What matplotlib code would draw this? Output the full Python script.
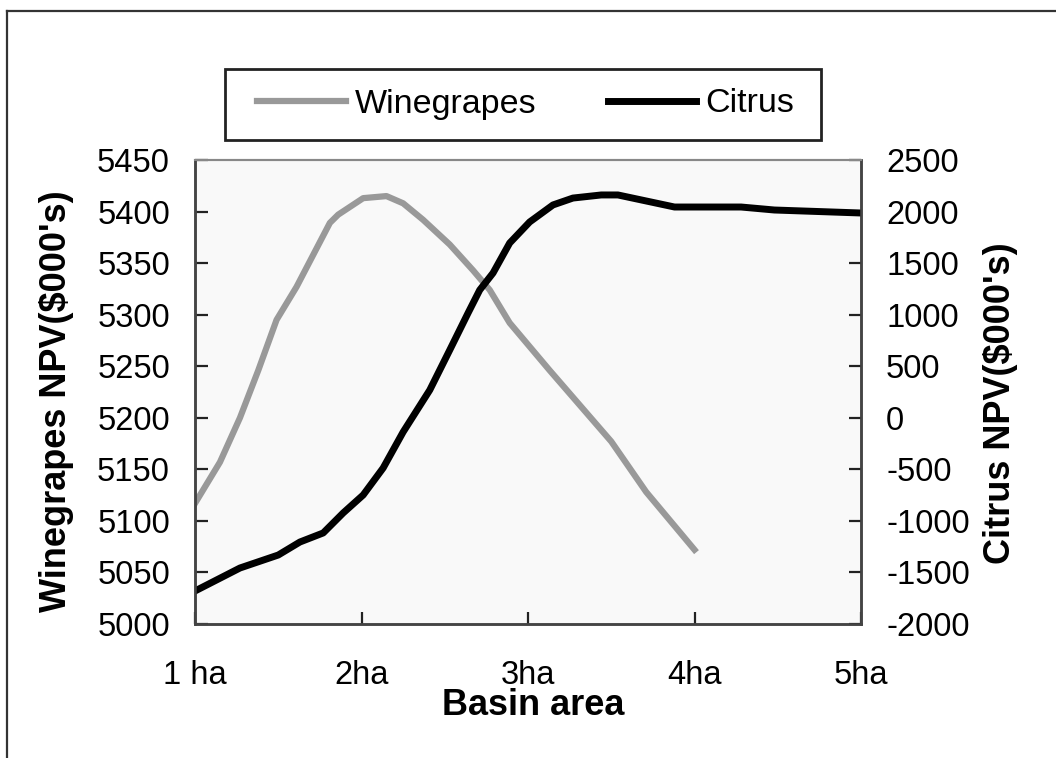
import matplotlib
matplotlib.use("Agg")
import matplotlib.pyplot as plt
from matplotlib.lines import Line2D
from matplotlib.patches import Rectangle

plt.rcParams['font.family'] = ['Liberation Sans', 'DejaVu Sans']
plt.rcParams['axes.unicode_minus'] = False

# basin area (ha) and NPV values
wine_area = [1.0, 1.15, 1.27, 1.38, 1.49, 1.61, 1.81, 1.86, 2.01, 2.15, 2.25,
             2.37, 2.53, 2.67, 2.77, 2.89, 3.13, 3.50, 3.71, 4.0]
wine_npv = [5117, 5157, 5200, 5246, 5295, 5327, 5389, 5397, 5413, 5415, 5408,
            5392, 5368, 5343, 5324, 5292, 5246, 5177, 5128, 5072]

citrus_area = [1.0, 1.27, 1.5, 1.63, 1.77, 1.89, 2.01, 2.13, 2.25, 2.41, 2.53,
               2.64, 2.71, 2.79, 2.89, 3.01, 3.15, 3.27, 3.44, 3.54, 3.88,
               4.28, 4.48, 5.0]
citrus_npv = [-1680, -1457, -1331, -1205, -1117, -923, -749, -487, -138, 269,
              657, 1016, 1239, 1404, 1695, 1899, 2064, 2131, 2161, 2161, 2044,
              2044, 2015, 1986]

x_ticks = [1, 2, 3, 4, 5]
x_labels = ["1 ha", "2ha", "3ha", "4ha", "5ha"]
left_ticks = list(range(5000, 5451, 50))
right_ticks = list(range(-2000, 2501, 500))

fig = plt.figure(figsize=(10.56, 7.58), dpi=100)
ax = fig.add_axes([195 / 1056, 1 - 624 / 758, 666 / 1056, 464 / 758])
ax2 = ax.twinx()

ax.set_facecolor('#f9f9f9')
ax2.patch.set_visible(False)

l1, = ax.plot(wine_area, wine_npv, color='#999999', lw=4.5,
              solid_joinstyle='round', label='Winegrapes')
l2, = ax2.plot(citrus_area, citrus_npv, color='black', lw=5.0,
               solid_joinstyle='round', label='Citrus')

ax.set_xlim(1, 5)
ax.set_ylim(5000, 5450)
ax2.set_ylim(-2000, 2500)
ax.set_xticks(x_ticks)
ax.set_xticklabels(x_labels)
ax.set_yticks(left_ticks)
ax2.set_yticks(right_ticks)

fs = 23.5
ax.tick_params(axis='y', direction='in', length=9, width=1.6, color='#222222',
               labelsize=fs, pad=18)
ax.tick_params(axis='x', direction='in', length=9, width=1.6, color='#222222',
               labelsize=fs, pad=26)
ax2.tick_params(axis='y', direction='in', length=9, width=1.6, color='#222222',
                labelsize=fs, pad=18)

for a in (ax, ax2):
    for side in ('left', 'right', 'bottom'):
        a.spines[side].set_color('#444444')
        a.spines[side].set_linewidth(1.8)
    a.spines['top'].set_color('#888888')
    a.spines['top'].set_linewidth(1.5)

fig.text(533 / 1056, 1 - 715 / 758, "Basin area", fontsize=26,
         fontweight='bold', ha='center', va='baseline')
fig.text(57 / 1056, 1 - 401 / 758, "Winegrapes NPV($000's)", fontsize=26,
         fontweight='bold', ha='center', va='center', rotation=90)
fig.text(1001 / 1056, 1 - 403 / 758, "Citrus NPV($000's)", fontsize=26,
         fontweight='bold', ha='center', va='center', rotation=90)

# legend box drawn as a figure rectangle, entries from the legend itself
fig.add_artist(Rectangle((225 / 1056, 1 - 140 / 758), 596 / 1056, 71 / 758,
                         transform=fig.transFigure, facecolor='white',
                         edgecolor='#222222', lw=2, zorder=5))
leg = ax2.legend(handles=[l1, l2], loc='center', ncol=2,
                 bbox_to_anchor=(525.5 / 1056, 1 - 104 / 758),
                 bbox_transform=fig.transFigure, fontsize=24.5, frameon=False,
                 handlelength=2.6, handletextpad=0.26, columnspacing=2.1,
                 borderpad=0.2)
leg.set_zorder(6)
fig.legends.append(leg)
ax2.legend_ = None

# outer frame (only top and left edges show in the crop)
fig.add_artist(Line2D([7 / 1056, 7 / 1056], [0, 1 - 11 / 758],
                      color='#333333', lw=1.6, transform=fig.transFigure))
fig.add_artist(Line2D([7 / 1056, 1], [1 - 11 / 758, 1 - 11 / 758],
                      color='#333333', lw=1.6, transform=fig.transFigure))

fig.savefig("out.png", dpi=100)
